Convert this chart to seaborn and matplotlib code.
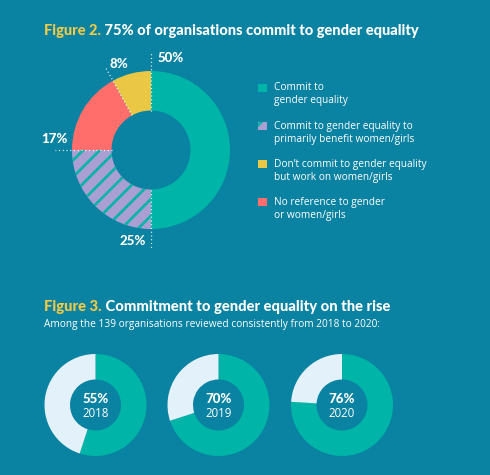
import numpy as np
import matplotlib
matplotlib.use("Agg")
import matplotlib.pyplot as plt
import seaborn as sns
from matplotlib.patches import Rectangle


# ==========================================
# DATA
# ==========================================

fig2_labels = [
    "Commit to\ngender equality",
    "Commit to gender equality to\nprimarily benefit women/girls",
    "Don\u2019t commit to gender equality\nbut work on women/girls",
    "No reference to gender\nor women/girls",
]
fig2_values = [50, 25, 8, 17]          # legend order
pie_order = [0, 1, 3, 2]               # clockwise from 12 o'clock

years = ["2018", "2019", "2020"]
commit_share = [55, 70, 76]


# ==========================================
# STYLE
# ==========================================

sns.set_theme(style="white")

BG = "#0A82A1"
TEAL = "#00B4A7"
LAVENDER = "#A99FD2"
YELLOW = "#EAC846"
RED = "#FF6E6A"
LIGHT = "#E3F2FA"
TITLE_YELLOW = "#F1CB48"
WHITE = "#FFFFFF"

palette = sns.color_palette([TEAL, LAVENDER, YELLOW, RED])

plt.rcParams["font.family"] = ["Open Sans", "DejaVu Sans"]
plt.rcParams["hatch.linewidth"] = 1.9
plt.rcParams["hatch.color"] = TEAL

W, H = 490, 475
fig = plt.figure(figsize=(W / 100, H / 100), dpi=100)
fig.patch.set_facecolor(BG)

bg = fig.add_axes([0, 0, 1, 1])
bg.set_xlim(0, W)
bg.set_ylim(H, 0)
bg.axis("off")

HEAD = dict(family=["Lato", "DejaVu Sans"], weight="black")


def two_tone_title(x, y, first, rest, size):
    t1 = bg.text(x, y, first, color=TITLE_YELLOW, fontsize=size,
                 va="baseline", ha="left", **HEAD)
    bg.annotate(" " + rest, xy=(1, 0), xycoords=t1, va="bottom", ha="left",
                color=WHITE, fontsize=size, **HEAD)


# ==========================================
# FIGURE 2 - MAIN DONUT
# ==========================================

two_tone_title(44, 35, "Figure 2.",
               "75% of organisations commit to gender equality", 10.5)

cx, cy, R = 151, 150, 79
L = 1.6
half = L * R
ax = fig.add_axes([(cx - half) / W, (H - cy - half) / H, 2 * half / W, 2 * half / H])

vals = [fig2_values[i] for i in pie_order]
cols = [palette[i] for i in pie_order]
wedges, _ = ax.pie(vals, colors=cols, startangle=90, counterclock=False,
                   wedgeprops=dict(width=0.5, linewidth=0))
wedges[1].set_hatch("//")
wedges[1].set_edgecolor(TEAL)
wedges[1].set_linewidth(0)
ax.set_xlim(-L, L)
ax.set_ylim(-L, L)
ax.set_aspect("equal")
ax.axis("off")

# leader lines from each wedge's clockwise start
leader_end = [1.23, 1.24, 1.22, 1.2]
offsets = [((5, -3.5), "left"), ((-4, 5), "right"), ((0, 8), "center"), ((3, 2), "left")]
for w, v, r_end, (off, ha) in zip(wedges, vals, leader_end, offsets):
    a = np.deg2rad(w.theta2)
    xs = [0.5 * np.cos(a), r_end * np.cos(a)]
    ys = [0.5 * np.sin(a), r_end * np.sin(a)]
    ax.plot(xs, ys, color=WHITE, lw=0.9, ls=(0, (0.8, 2.2)), zorder=5,
            solid_capstyle="round", clip_on=False)
    ax.annotate(f"{v}%", xy=(xs[1], ys[1]), xytext=off, textcoords="offset points",
                ha=ha, va="center", color=WHITE, fontsize=9.5, **HEAD,
                annotation_clip=False)

# legend
for i, (lab, col) in enumerate(zip(fig2_labels, palette)):
    y0 = 88 + 38.1 * i
    sq = Rectangle((258, y0 - 4.5), 8.5, 8.5, facecolor=col, linewidth=0,
                   edgecolor=TEAL)
    if i == 1:
        sq.set_hatch("//")
    bg.add_patch(sq)
    bg.text(274, y0 - 5.5, lab, color=WHITE, fontsize=7.3, va="top",
            ha="left", linespacing=1.25)


# ==========================================
# FIGURE 3 - SMALL DONUTS
# ==========================================

two_tone_title(44, 311, "Figure 3.",
               "Commitment to gender equality on the rise", 10.6)
bg.text(44, 326.5, "Among the 139 organisations reviewed consistently from 2018 to 2020:",
        color=WHITE, fontsize=7.3, va="baseline", ha="left")

small_cx = [95.5, 218.5, 342]
scy, sr = 405, 51
Ls = 1.25
hs = Ls * sr
for x0, yr, share in zip(small_cx, years, commit_share):
    a = fig.add_axes([(x0 - hs) / W, (H - scy - hs) / H, 2 * hs / W, 2 * hs / H])
    a.pie([share, 100 - share], colors=[TEAL, LIGHT], startangle=90,
          counterclock=False, wedgeprops=dict(width=0.5, linewidth=0))
    a.set_xlim(-Ls, Ls)
    a.set_ylim(-Ls, Ls)
    a.set_aspect("equal")
    a.axis("off")
    a.text(0, 0.12, f"{share}%", ha="center", va="center", color=WHITE,
           fontsize=9.5, **HEAD)
    a.text(0, -0.17, yr, ha="center", va="center", color=WHITE, fontsize=8.3)

fig.savefig("out.png", dpi=100, facecolor=BG)
